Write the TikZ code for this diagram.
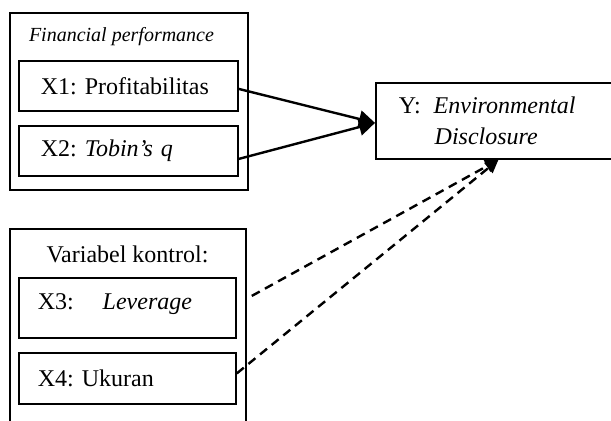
\documentclass[tikz,border=0pt]{standalone}
\usepackage{fontspec}
\setmainfont{Liberation Serif}
\usetikzlibrary{arrows.meta}
\frenchspacing

\tikzset{
  frame/.style={draw, line width=0.9pt, anchor=north west, inner sep=0pt},
  varbox/.style={draw, line width=0.9pt, anchor=north west, inner xsep=11pt, inner ysep=0pt,
                 align=left, font=\fontsize{12}{14.5}\selectfont},
  link/.style={line width=1.2pt, -{Triangle[length=8pt,width=8.5pt]}},
  ctrllink/.style={line width=1.2pt, dash pattern=on 4.5pt off 3pt, -{Triangle[length=6.5pt,width=6.5pt]}}
}

\begin{document}
\begin{tikzpicture}[x=0.5pt,y=-0.5pt]
  \useasboundingbox (0,0) rectangle (611,420);
  \clip (0,0) rectangle (611,420);

 % Financial performance group
  \node[frame, minimum width=119pt, minimum height=88.5pt] (fp) at (9,12) {};
  \node[anchor=base, font=\fontsize{10}{12}\selectfont\itshape] (fptitle) at (121.5,41) {Financial performance};
  \node[varbox, text width=87.5pt, minimum height=25pt] (x1) at (18,60) {X1: Profitabilitas};
  \node[varbox, text width=87.5pt, minimum height=25pt] (x2) at (18,125) {X2: \textit{Tobin's q}};

 % Dependent variable
  \node[varbox, inner xsep=11.5pt, text width=99.5pt, minimum height=38pt] (y) at (375,82)
    {Y:\hspace{6.5pt}\textit{Environmental}\\[1pt]\phantom{Y:}\hspace{7pt}\textit{Disclosure}};

 % Control variables group
  \node[frame, minimum width=118pt, minimum height=106pt] (ctrl) at (9,228) {};
  \node[anchor=base, font=\fontsize{12}{14.5}\selectfont] (ctrltitle) at (127.5,262) {Variabel kontrol:};
  \node[varbox, inner xsep=9.5pt, text width=89.5pt, text height=16pt, text depth=14pt] (x3) at (18,277)
    {X3:\hspace{1.2em}\textit{Leverage}};
  \node[varbox, inner xsep=9.5pt, text width=89.5pt, minimum height=25.5pt] (x4) at (18,352) {X4: Ukuran};

 % Arrows
  \draw[link] ([yshift=-1.5pt]x1.east) -- ([yshift=-1pt]y.west);
  \draw[link] ([yshift=-4pt]x2.east) -- ([yshift=-1pt]y.west);
  \draw[ctrllink] ([shift={(15,-12)}]x3.east) -- (y.south);
  \draw[ctrllink] ([yshift=2.5pt]x4.east) -- (y.south);

\end{tikzpicture}
\end{document}
